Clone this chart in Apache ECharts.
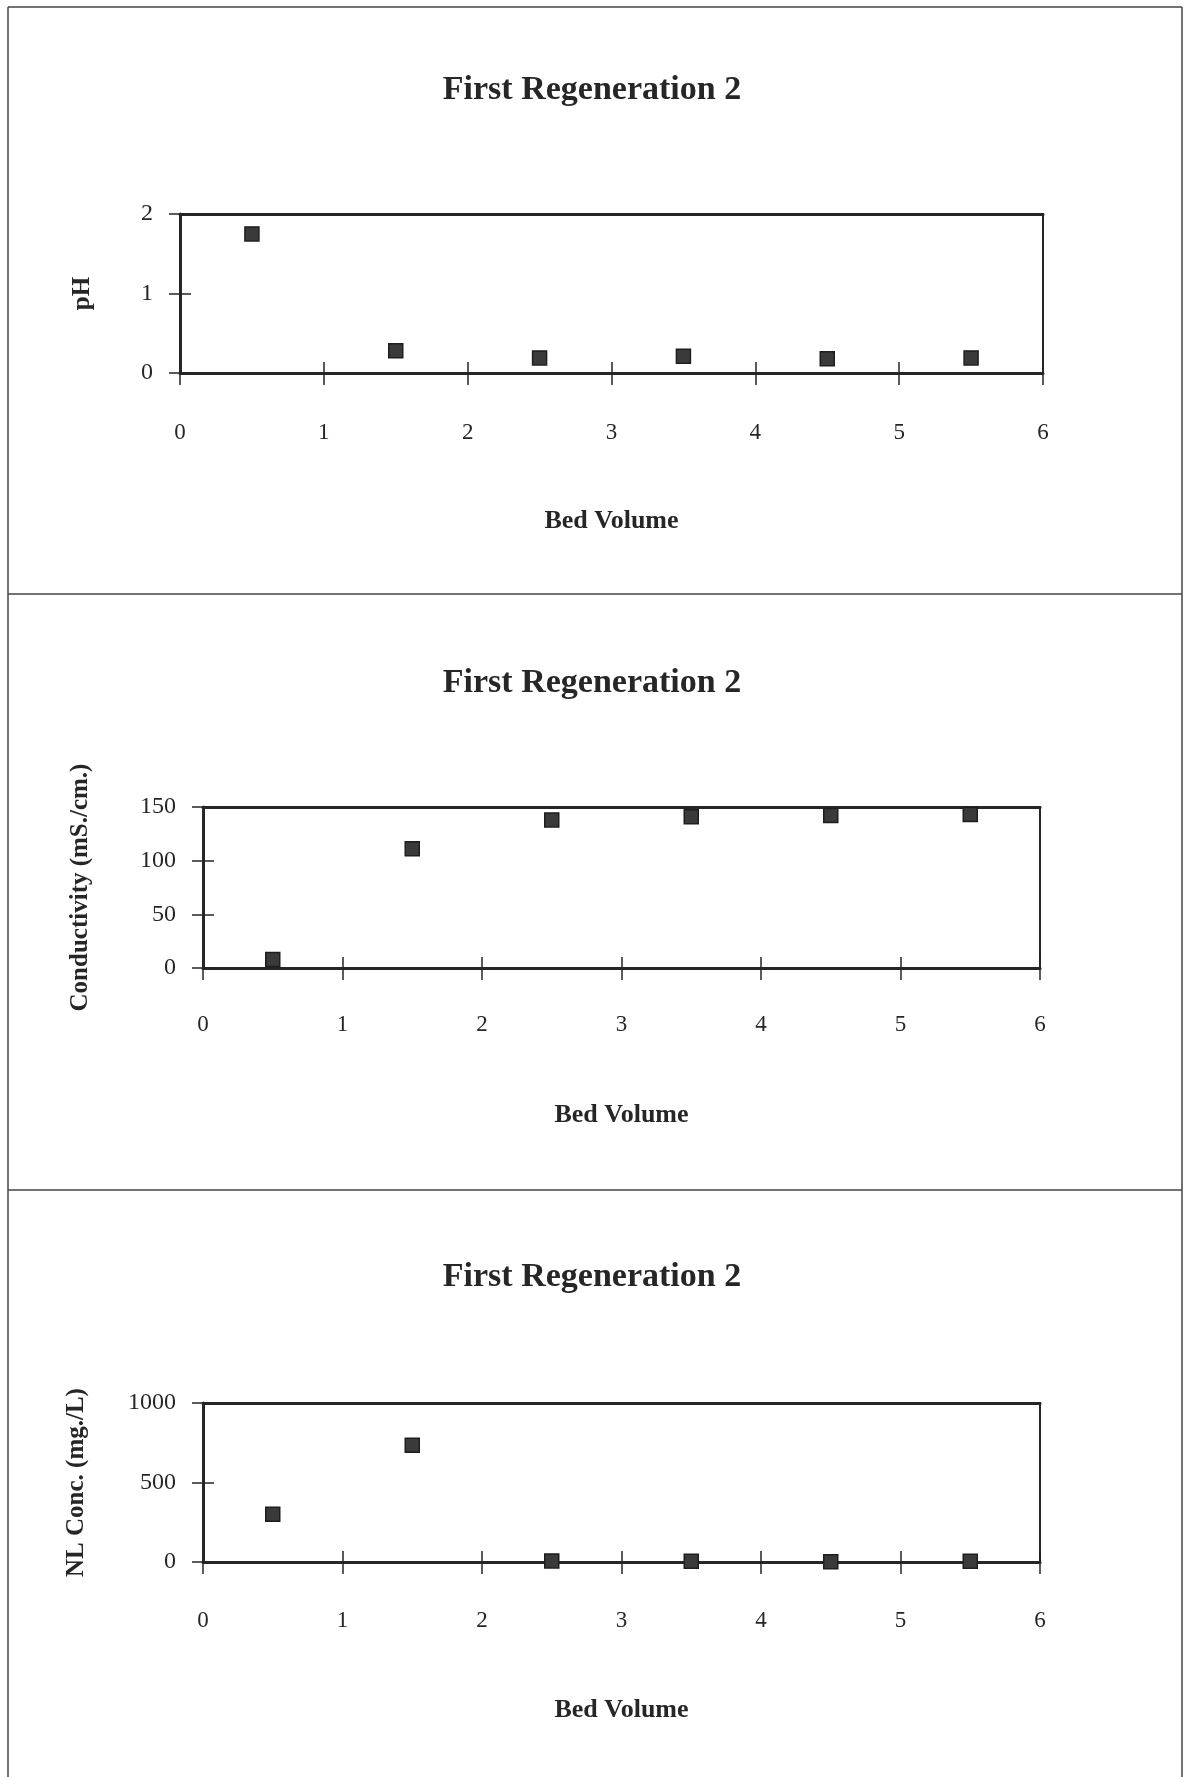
<!DOCTYPE html>
<html>
<head>
<meta charset="utf-8">
<script src="https://cdn.jsdelivr.net/npm/echarts@6/dist/echarts.min.js"></script>
<style>
html,body{margin:0;padding:0;background:#fff;}
#chart{width:1184px;height:1777px;}
</style>
</head>
<body>
<div id="chart"></div>
<script>
// ---- data ----
var bedVolume = [0.5, 1.5, 2.5, 3.5, 4.5, 5.5];
var pH = [1.75, 0.28, 0.19, 0.21, 0.18, 0.19];
var conductivity = [8, 111, 138, 141, 142, 143];
var niConc = [300, 735, 7, 4, 1, 4];
var xTicks = [0, 1, 2, 3, 4, 5, 6];
var titleText = 'First Regeneration 2';
var xName = 'Bed Volume';
var yNames = ['pH', 'Conductivity (mS./cm.)', 'NL Conc. (mg./L)'];
var yRanges = [[0, 2, 1], [0, 150, 50], [0, 1000, 500]];
var seriesData = [pH, conductivity, niConc];

// ---- layout ----
var FONT = '"Liberation Serif", "DejaVu Serif", serif';
var INK = '#262626';
var grids = [
  {left: 180, right: 141, top: 214, height: 159},
  {left: 203, right: 144, top: 807, height: 161},
  {left: 203, right: 144, top: 1403, height: 159}
];
var titleTops = [73, 666, 1260];
var labelMargins = [48, 45, 47];
var nameGaps = [135, 134, 135];
var yNameGaps = [85, 110, 114];
var yNameSizes = [25, 25, 25];
var yLabelMargins = [27, 27, 27];

function pairs(ys) {
  return bedVolume.map(function (x, i) { return [x, ys[i]]; });
}

var option = {
  backgroundColor: '#fff',
  animation: false,
  title: [], grid: [], xAxis: [], yAxis: [], series: [],
  graphic: [
    {type: 'line', shape: {x1: 8, y1: 7, x2: 1182, y2: 7}, style: {stroke: '#444', lineWidth: 1.5}},
    {type: 'line', shape: {x1: 8, y1: 7, x2: 8, y2: 1777}, style: {stroke: '#444', lineWidth: 1.5}},
    {type: 'line', shape: {x1: 1182, y1: 7, x2: 1182, y2: 1777}, style: {stroke: '#444', lineWidth: 1.5}},
    {type: 'line', shape: {x1: 8, y1: 594, x2: 1182, y2: 594}, style: {stroke: '#444', lineWidth: 1.5}},
    {type: 'line', shape: {x1: 8, y1: 1190, x2: 1182, y2: 1190}, style: {stroke: '#444', lineWidth: 1.5}}
  ]
};

for (var k = 0; k < 3; k++) {
  var g = grids[k];
  option.title.push({
    text: titleText, left: 'center', top: titleTops[k], padding: 0,
    textStyle: {fontFamily: FONT, fontSize: 34, fontWeight: 'bold', color: INK}
  });
  option.grid.push({
    left: g.left, right: g.right, top: g.top, height: g.height,
    show: true, borderColor: INK, borderWidth: 2, backgroundColor: 'transparent'
  });
  var xBase = {
    type: 'value', gridIndex: k, min: xTicks[0], max: xTicks[xTicks.length - 1], interval: 1,
    splitLine: {show: false}
  };
  // primary bottom axis: outward ticks, labels, name
  option.xAxis.push(Object.assign({}, xBase, {
    position: 'bottom',
    name: xName, nameLocation: 'middle', nameGap: nameGaps[k],
    nameTextStyle: {fontFamily: FONT, fontSize: 26, fontWeight: 'bold', color: INK},
    axisLine: {show: true, lineStyle: {color: INK, width: 3}},
    axisTick: {show: true, length: 12, lineStyle: {color: INK, width: 1.5}},
    axisLabel: {margin: labelMargins[k], fontFamily: FONT, fontSize: 23, color: INK}
  }));
  // secondary bottom axis: inward ticks
  option.xAxis.push(Object.assign({}, xBase, {
    position: 'bottom',
    axisLine: {show: false},
    axisTick: {show: true, inside: true, length: 11, lineStyle: {color: INK, width: 1.5}},
    axisLabel: {show: false}
  }));
  // top axis: thick top border
  option.xAxis.push(Object.assign({}, xBase, {
    position: 'top',
    axisLine: {show: true, lineStyle: {color: INK, width: 3}},
    axisTick: {show: false},
    axisLabel: {show: false}
  }));
  var r = yRanges[k];
  var yBase = {
    type: 'value', gridIndex: k, min: r[0], max: r[1], interval: r[2],
    splitLine: {show: false}
  };
  option.yAxis.push(Object.assign({}, yBase, {
    position: 'left',
    name: yNames[k], nameLocation: 'middle', nameGap: yNameGaps[k],
    nameTextStyle: {fontFamily: FONT, fontSize: yNameSizes[k], fontWeight: 'bold', color: INK},
    axisLine: {show: true, lineStyle: {color: INK, width: 3}},
    axisTick: {show: true, length: 11, lineStyle: {color: INK, width: 1.5}},
    axisLabel: {
      margin: yLabelMargins[k], fontFamily: FONT, fontSize: 24, color: INK,
      formatter: function (v) { return String(v); }
    }
  }));
  option.yAxis.push(Object.assign({}, yBase, {
    position: 'left',
    axisLine: {show: false},
    axisTick: {show: true, inside: true, length: 11, lineStyle: {color: INK, width: 1.5}},
    axisLabel: {show: false}
  }));
  option.series.push({
    type: 'scatter', xAxisIndex: k * 3, yAxisIndex: k * 2,
    data: pairs(seriesData[k]),
    symbol: 'rect', symbolSize: 14,
    itemStyle: {color: '#3a3a3a', borderColor: '#1e1e1e', borderWidth: 1.5, opacity: 1}
  });
}

var chart = echarts.init(document.getElementById('chart'), null, {renderer: 'canvas'});
chart.setOption(option);
</script>
</body>
</html>
